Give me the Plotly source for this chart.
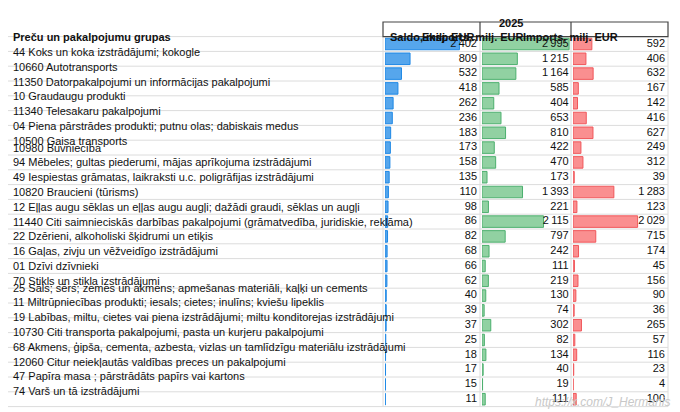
import plotly.graph_objects as go

labels = [
    "44 Koks un koka izstrādājumi; kokogle",
    "10660 Autotransports",
    "11350 Datorpakalpojumi un informācijas pakalpojumi",
    "10 Graudaugu produkti",
    "11340 Telesakaru pakalpojumi",
    "04 Piena pārstrādes produkti; putnu olas; dabiskais medus",
    "10500 Gaisa transports",
    "10980 Būvniecība",
    "94 Mēbeles; gultas piederumi, mājas aprīkojuma izstrādājumi",
    "49 Iespiestas grāmatas, laikraksti u.c. poligrāfijas izstrādājumi",
    "10820 Braucieni (tūrisms)",
    "12 Eļļas augu sēklas un eļļas augu augļi; dažādi graudi, sēklas un augļi",
    "11440 Citi saimnieciskās darbības pakalpojumi (grāmatvedība, juridiskie, reklāma)",
    "22 Dzērieni, alkoholiski šķidrumi un etiķis",
    "16 Gaļas, zivju un vēžveidīgo izstrādājumi",
    "01 Dzīvi dzīvnieki",
    "70 Stikls un stikla izstrādājumi",
    "25 Sāls; sērs; zemes un akmens; apmešanas materiāli, kaļķi un cements",
    "11 Miltrūpniecības produkti; iesals; cietes; inulīns; kviešu lipeklis",
    "19 Labības, miltu, cietes vai piena izstrādājumi; miltu konditorejas izstrādājumi",
    "10730 Citi transporta pakalpojumi, pasta un kurjeru pakalpojumi",
    "68 Akmens, ģipša, cementa, azbesta, vizlas un tamlīdzīgu materiālu izstrādājumi",
    "12060 Citur neiekļautās valdības preces un pakalpojumi",
    "47 Papīra masa ; pārstrādāts papīrs vai kartons",
    "74 Varš un tā izstrādājumi",
]
saldo = [2402, 809, 532, 418, 262, 236, 183, 173, 158, 135, 110, 98, 86, 82, 68,
         66, 62, 40, 39, 37, 25, 18, 17, 15, 11]
eksports = [2995, 1215, 1164, 585, 404, 653, 810, 422, 470, 173, 1393, 221, 2115,
            797, 242, 111, 219, 130, 74, 302, 82, 134, 40, 19, 111]
imports = [592, 406, 632, 167, 142, 416, 627, 249, 312, 39, 1283, 123, 2029,
           715, 174, 45, 156, 90, 36, 265, 57, 116, 23, 4, 100]

W, H = 680, 412
n = len(labels)
top_px, row_h = 28.6, 14.8
bot_px = top_px + row_h * n


def px(x):
    return x / W


def py(y):
    return min(1, max(0, 1 - y / H))


def fmt(v):
    return f"{v:,}".replace(",", "\u2009")


FONT = "Liberation Sans"
cols = [
    # name, values, x0, x1, bar fraction of cell, fill, outline
    ("Saldo, milj. EUR", saldo, 376, 472, 76 / 96, "rgba(30,136,229,0.75)", "#1e88e5"),
    ("Eksports, milj. EUR", eksports, 473, 563, 0.99, "rgba(99,190,123,0.7)", "#4caf6e"),
    ("Imports, milj. EUR", imports, 564, 660, 66 / 96, "rgba(248,105,107,0.75)", "#f0565a"),
]

fig = go.Figure()
ydom = [py(bot_px), py(top_px)]
idx = list(range(n))
layout_axes = {}
for i, (name, vals, x0, x1, frac, fill, line) in enumerate(cols):
    k = "" if i == 0 else str(i + 1)
    vmax = max(vals) / frac
    fig.add_trace(go.Bar(
        x=vals, y=idx, orientation="h", width=0.78,
        marker=dict(color=fill, line=dict(color=line, width=1)),
        xaxis="x" + k, yaxis="y" + k, hoverinfo="skip", showlegend=False,
    ))
    tx = max(vals) / frac * (x1 - x0 - 4) / (x1 - x0 - 2) if frac < 0.95 else max(vals) / frac * 0.985
    fig.add_trace(go.Scatter(
        x=[tx] * n, y=idx, mode="text", text=[fmt(v) for v in vals],
        textposition="middle left", textfont=dict(family=FONT, size=11, color="#111"),
        xaxis="x" + k, yaxis="y" + k, hoverinfo="skip", showlegend=False,
    ))
    layout_axes["xaxis" + k] = dict(domain=[px(x0 + 1), px(x1 - 1)], range=[0, vmax],
                                     visible=False, anchor="y" + k)
    layout_axes["yaxis" + k] = dict(domain=ydom, range=[n - 0.5, -0.5], visible=False,
                                     anchor="x" + k)

shapes = []
for r in range(n + 1):
    y = py(top_px + r * row_h)
    shapes.append(dict(type="line", xref="paper", yref="paper", x0=0, x1=px(660),
                       y0=y, y1=y, line=dict(color="#dcdcdc", width=1)))
for x in [375, 472, 563, 660]:
    shapes.append(dict(type="line", xref="paper", yref="paper", x0=px(x), x1=px(x),
                       y0=py(top_px), y1=py(bot_px), line=dict(color="#dcdcdc", width=1)))
shapes.append(dict(type="rect", xref="paper", yref="paper", x0=px(375), x1=px(660),
                   y0=py(top_px), y1=py(14), line=dict(color="#444", width=1.2)))
for x in [472, 563]:
    shapes.append(dict(type="line", xref="paper", yref="paper", x0=px(x), x1=px(x),
                       y0=py(top_px), y1=py(14), line=dict(color="#444", width=1.2)))

annotations = [dict(text="<b>2025</b>", x=px(517), y=py(7), xref="paper", yref="paper",
                    showarrow=False, font=dict(family=FONT, size=11, color="#111")),
               dict(text="<b>Preču un pakalpojumu grupas</b>", x=px(3), y=py(21),
                    xref="paper", yref="paper", xanchor="left", showarrow=False,
                    font=dict(family=FONT, size=11, color="#111")),
               dict(text="<i>https://x.com/J_Hermanis</i>", x=px(664), y=py(403),
                    xref="paper", yref="paper", xanchor="right", showarrow=False,
                    font=dict(family=FONT, size=12, color="#c8c8c8"))]
for name, vals, x0, x1, *_ in cols:
    annotations.append(dict(text=f"<b>{name}</b>", x=px((x0 + x1) / 2), y=py(21),
                            xref="paper", yref="paper", showarrow=False,
                            font=dict(family=FONT, size=11, color="#111")))
for r, lab in enumerate(labels):
    annotations.append(dict(text=lab, x=px(3), y=py(top_px + (r + 0.5) * row_h),
                            xref="paper", yref="paper", xanchor="left", showarrow=False,
                            font=dict(family=FONT, size=11, color="#111")))

fig.update_layout(width=W, height=H, margin=dict(l=0, r=0, t=0, b=0),
                  plot_bgcolor="white", paper_bgcolor="white", bargap=0.2,
                  shapes=shapes, annotations=annotations, **layout_axes)
fig.write_html("out.html")
